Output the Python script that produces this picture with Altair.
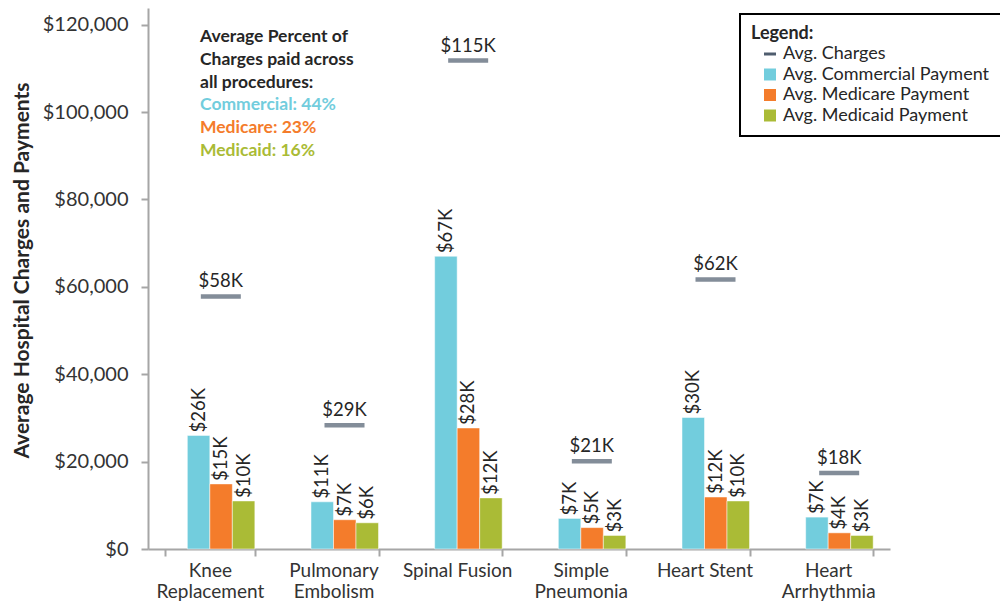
import altair as alt
import pandas as pd

categories = ["Knee Replacement", "Pulmonary Embolism", "Spinal Fusion",
              "Simple Pneumonia", "Heart Stent", "Heart Arrhythmia"]
series = ["Avg. Charges", "Avg. Commercial Payment", "Avg. Medicare Payment", "Avg. Medicaid Payment"]
colors = ["#4F5D6E", "#72CDDD", "#F47C2B", "#AABB36"]

charges = [57800, 28300, 111800, 20100, 61700, 17400]
charge_labels = ["$58K", "$29K", "$115K", "$21K", "$62K", "$18K"]
commercial = [26000, 10800, 67000, 7000, 30100, 7300]
commercial_labels = ["$26K", "$11K", "$67K", "$7K", "$30K", "$7K"]
medicare = [14900, 6700, 27700, 4900, 11900, 3700]
medicare_labels = ["$15K", "$7K", "$28K", "$5K", "$12K", "$4K"]
medicaid = [11000, 6000, 11700, 3100, 11000, 3100]
medicaid_labels = ["$10K", "$6K", "$12K", "$3K", "$10K", "$3K"]

y_ticks = [0, 20000, 40000, 60000, 80000, 100000, 120000]

note_lines = ["Average Percent of", "Charges paid across", "all procedures:",
              "Commercial: 44%", "Medicare: 23%", "Medicaid: 16%"]
note_colors = ["#262626", "#262626", "#262626", "#72CDDD", "#F47C2B", "#AABB36"]

FONT = "Lato"
TXT = "#262626"

rows = []
for i, c in enumerate(categories):
    for s, vals, labs in zip(series[1:], [commercial, medicare, medicaid],
                             [commercial_labels, medicare_labels, medicaid_labels]):
        rows.append(dict(category=c, series=s, value=vals[i], label=labs[i]))
bars_df = pd.DataFrame(rows)
charges_df = pd.DataFrame(dict(category=categories, series=series[0], value=charges, label=charge_labels))
notes_df = pd.DataFrame(dict(line=note_lines, color=note_colors, i=list(range(len(note_lines)))))

x_enc = alt.X("category:N", sort=categories, title=None,
              scale=alt.Scale(paddingInner=0.272, paddingOuter=0.136),
              axis=alt.Axis(tickBand="extent", tickSize=7, labelAngle=0,
                            labelExpr="isValid(datum.value) ? (indexof(['Spinal Fusion','Heart Stent'], datum.value) >= 0 ? datum.value : split(datum.value, ' ')) : ''",
                            labelLineHeight=21, labelPadding=5, labelBaseline="top",
                            labelFontSize=19))
y_enc = alt.Y("value:Q", title="Average Hospital Charges and Payments",
              scale=alt.Scale(domain=[0, 123822], nice=False),
              axis=alt.Axis(values=y_ticks, format="$,.0f", grid=False, tickSize=7,
                            labelPadding=13, labelFontSize=20,
                            titleX=-126, titleY=262, titleAngle=270,
                            titleAlign="center", titleBaseline="middle"))
xoff = alt.XOffset("series:N", sort=series,
                   scale=alt.Scale(domain=series, paddingInner=0, paddingOuter=0))
color = alt.Color("series:N", sort=series, scale=alt.Scale(domain=series, range=colors),
                  legend=alt.Legend(title="Legend:", orient="none", legendX=592, legendY=6,
                                    direction="vertical"))
shape = alt.Shape("series:N", sort=series,
                  scale=alt.Scale(domain=series,
                                  range=["M-1,-0.25H1V0.25H-1Z", "square", "square", "square"]),
                  legend=alt.Legend(title="Legend:", orient="none", legendX=592, legendY=6,
                                    direction="vertical"))

bars = alt.Chart(bars_df).mark_bar(stroke="white", strokeWidth=0.5).encode(
    x=x_enc, y=y_enc, xOffset=xoff, color=color)

bar_labels = alt.Chart(bars_df).mark_text(angle=270, align="left", baseline="middle", dx=3,
                                          font=FONT, fontSize=18.5, color=TXT).encode(
    x=x_enc, y=y_enc, xOffset=xoff, text="label:N")

legend_pts = alt.Chart(charges_df).mark_point(filled=True, size=0, opacity=1).encode(
    x=x_enc, y=y_enc, color=color, shape=shape)

dashes = alt.Chart(charges_df).mark_tick(color=colors[0], thickness=4.5, size=40, xOffset=11).encode(
    x=x_enc, y=y_enc)

dash_labels = alt.Chart(charges_df).mark_text(baseline="bottom", dy=-5, xOffset=11,
                                              font=FONT, fontSize=18.5, color=TXT).encode(
    x=x_enc, y=y_enc, text="label:N")

notes = alt.Chart(notes_df).mark_text(align="left", baseline="middle", font=FONT,
                                      fontSize=17.5, fontWeight="bold").transform_calculate(
    py="29 + datum.i * 22.8").encode(
    x=alt.value(52), y=alt.Y("py:Q", scale=None), text="line:N",
    color=alt.Color("color:N", scale=None, legend=None))

chart = alt.layer(bars, bar_labels, legend_pts, dashes, dash_labels, notes).properties(
    width=742, height=541,
    autosize=alt.AutoSizeParams(type="none"),
    padding={"left": 140, "top": 0, "right": 110, "bottom": 54},
    background="white",
).configure_view(stroke=None).configure_axis(
    domainColor="#A6A6A6", tickColor="#A6A6A6", domainWidth=2, tickWidth=2,
    labelFont=FONT, labelColor="#333333",
    titleFont=FONT, titleFontSize=21, titleFontWeight="bold", titleColor=TXT,
).configure_legend(
    strokeColor="black", strokeWidth=2, fillColor="white", padding=11,
    titleFont=FONT, titleFontSize=18, titleFontWeight="bold", titleColor=TXT, titlePadding=2,
    labelFont=FONT, labelFontSize=18, labelColor=TXT, labelOffset=4, labelLimit=400,
    symbolSize=144, symbolOffset=10, rowPadding=2.5, symbolStrokeWidth=0,
)

chart.save("out.html", embed_options={"renderer": "svg", "actions": False})
